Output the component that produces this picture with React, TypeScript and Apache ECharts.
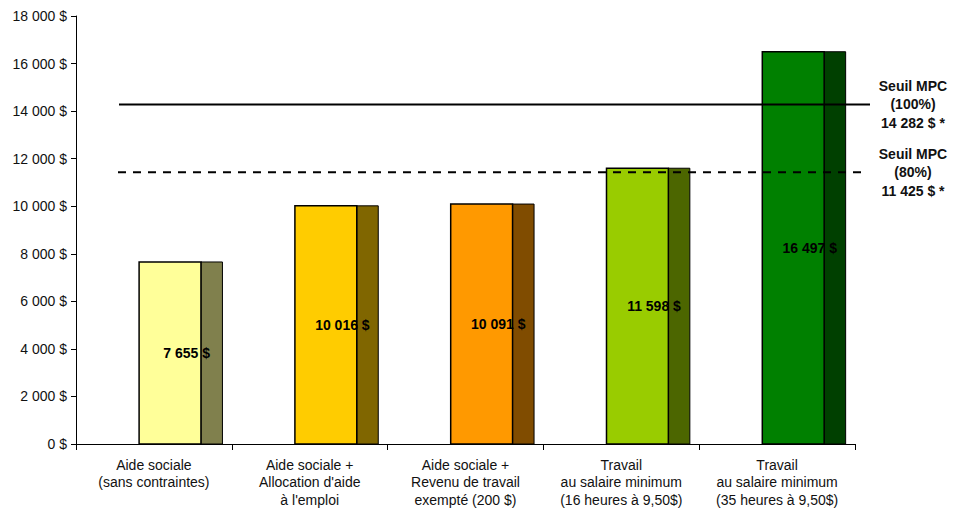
import React, { useEffect, useRef } from "react";
import * as echarts from "echarts";

const categories = [
  "Aide sociale\n(sans contraintes)",
  "Aide sociale +\nAllocation d'aide\nà l'emploi",
  "Aide sociale +\nRevenu de travail\nexempté (200 $)",
  "Travail\nau salaire minimum\n(16 heures à 9,50$)",
  "Travail\nau salaire minimum\n(35 heures à 9,50$)",
];
const values = [7655, 10016, 10091, 11598, 16497];
const frontColors = ["#FFFF99", "#FFCC00", "#FF9900", "#99CC00", "#008000"];
const sideColors = ["#80804D", "#806600", "#804C00", "#4C6600", "#004000"];
const thresholds = [14282, 11425];
const thresholdTitles = ["Seuil MPC\n(100%)", "Seuil MPC\n(80%)"];
const yMin = 0;
const yMax = 18000;
const yInterval = 2000;

const FONT = "'Liberation Sans', Arial, sans-serif";
const fmt = (v: number) => String(v).replace(/\B(?=(\d{3})+(?!\d))/g, " ") + " $";

export default function App() {
  const ref = useRef<HTMLDivElement>(null);
  useEffect(() => {
    if (!ref.current) return;
    const chart = echarts.init(ref.current, null, { renderer: "svg" });
    chart.setOption({
      animation: false,
      backgroundColor: "#fff",
      grid: { left: 76, right: 103, top: 16, bottom: 69 },
      xAxis: {
        type: "category",
        data: categories,
        boundaryGap: true,
        axisLine: { lineStyle: { color: "#000", width: 1 } },
        axisTick: { show: true, length: 6, lineStyle: { color: "#000" } },
        axisLabel: { color: "#111", fontFamily: FONT, fontSize: 14, lineHeight: 17.5, margin: 12, interval: 0 },
      },
      yAxis: {
        type: "value",
        min: yMin,
        max: yMax,
        interval: yInterval,
        splitLine: { show: false },
        axisLine: { show: true, lineStyle: { color: "#000", width: 1 } },
        axisTick: { show: true, length: 5, lineStyle: { color: "#000" } },
        axisLabel: { color: "#111", fontFamily: FONT, fontSize: 14, margin: 9, formatter: (v: number) => fmt(v) },
      },
      series: [
        {
          type: "custom",
          data: values.map((v, i) => [i, v]),
          renderItem: (params: any, api: any) => {
            const idx = api.value(0);
            const val = api.value(1);
            const base = api.coord([idx, 0]);
            const top = api.coord([idx, val]);
            const bw = api.size([1, 0])[0];
            const start = base[0] - bw / 2;
            const fx = start + 0.405 * bw;
            const fw = 0.397 * bw;
            const sw = 0.138 * bw;
            const h = base[1] - top[1];
            return {
              type: "group",
              children: [
                {
                  type: "rect",
                  shape: { x: fx + fw, y: top[1], width: sw, height: h },
                  style: { fill: sideColors[idx], stroke: "#000", lineWidth: 1 },
                },
                {
                  type: "rect",
                  shape: { x: fx, y: top[1], width: fw, height: h },
                  style: { fill: frontColors[idx], stroke: "#000", lineWidth: 1.5 },
                },
                {
                  type: "text",
                  style: {
                    text: fmt(val),
                    x: start + 0.71 * bw,
                    y: top[1] + h / 2,
                    align: "center",
                    verticalAlign: "middle",
                    fontFamily: FONT,
                    fontWeight: "bold",
                    fontSize: 14,
                    fill: "#000",
                  },
                },
              ],
            };
          },
        },
      ],
    });
    const ys = thresholds.map((t) => chart.convertToPixel({ yAxisIndex: 0 }, t) as number);
    chart.setOption({
      graphic: [
        {
          type: "line",
          shape: { x1: 119, y1: ys[0], x2: 870, y2: ys[0] },
          style: { stroke: "#000", lineWidth: 2 },
          z: 10,
        },
        {
          type: "line",
          shape: { x1: 118, y1: ys[1], x2: 863, y2: ys[1] },
          style: { stroke: "#000", lineWidth: 2, lineDash: [8, 7] },
          z: 10,
        },
        ...thresholds.map((t, i) => ({
          type: "text",
          x: 913,
          y: ys[i],
          z: 10,
          style: {
            text: thresholdTitles[i] + "\n" + fmt(t) + " *",
            align: "center",
            verticalAlign: "middle",
            fontFamily: FONT,
            fontWeight: "bold",
            fontSize: 14,
            lineHeight: 18.5,
            fill: "#111",
          },
        })),
      ],
    });
    return () => chart.dispose();
  }, []);
  return <div ref={ref} style={{ position: "fixed", left: 0, top: 0, width: 958, height: 513 }} />;
}
